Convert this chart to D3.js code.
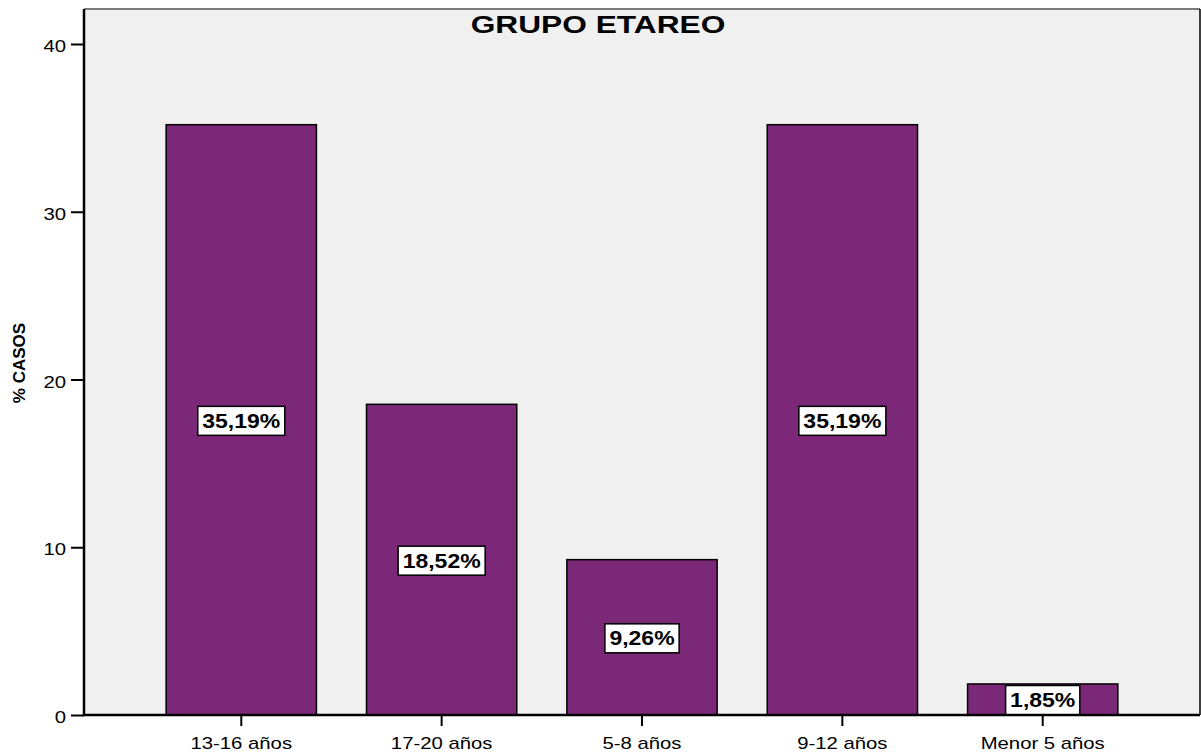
<!DOCTYPE html>
<html>
<head>
<meta charset="utf-8">
<script src="https://cdn.jsdelivr.net/npm/d3@7"></script>
<style>
  html, body { margin: 0; padding: 0; background: #ffffff; }
  svg { display: block; font-family: Arial, "Liberation Sans", sans-serif; }
</style>
</head>
<body>
<svg id="chart" width="1201" height="755"></svg>
<script>
// Age-group distribution (% of cases)
const categories = ["13-16 años", "17-20 años", "5-8 años", "9-12 años", "Menor 5 años"];
const values = [35.19, 18.52, 9.26, 35.19, 1.85];
const valueLabels = ["35,19%", "18,52%", "9,26%", "35,19%", "1,85%"];
const yTicks = [0, 10, 20, 30, 40];
const title = "GRUPO ETAREO";
const yTitle = "% CASOS";

const svg = d3.select("#chart");
const plot = { left: 84, right: 1200, top: 9, bottom: 715 };

const x = d3.scaleBand()
  .domain(categories)
  .range([plot.left, plot.right])
  .paddingInner(0.25)
  .paddingOuter(0.41);

const y = d3.scaleLinear()
  .domain([0, 40])
  .range([plot.bottom, 44]);

// plot background
svg.append("rect")
  .attr("x", plot.left).attr("y", plot.top)
  .attr("width", plot.right - plot.left).attr("height", plot.bottom - plot.top)
  .attr("fill", "#f0f0f0");

// frame: grey top, black right
svg.append("line")
  .attr("x1", plot.left).attr("x2", plot.right)
  .attr("y1", plot.top).attr("y2", plot.top)
  .attr("stroke", "#7a7a7a").attr("stroke-width", 2);
svg.append("line")
  .attr("x1", plot.right).attr("x2", plot.right)
  .attr("y1", plot.top).attr("y2", plot.bottom)
  .attr("stroke", "#000").attr("stroke-width", 1.5);

// bars
svg.append("g").selectAll("rect")
  .data(values)
  .join("rect")
  .attr("x", (d, i) => x(categories[i]))
  .attr("y", d => y(d))
  .attr("width", x.bandwidth())
  .attr("height", d => y(0) - y(d))
  .attr("fill", "#7b2878")
  .attr("stroke", "#000")
  .attr("stroke-width", 1.5);

// y axis
const yAxis = svg.append("g")
  .attr("transform", `translate(${plot.left},0)`)
  .call(d3.axisLeft(y).tickValues(yTicks).tickSize(13).tickFormat(d3.format("d")));
yAxis.select(".domain").remove();
yAxis.selectAll(".tick line").attr("stroke", "#000").attr("stroke-width", 2);
yAxis.selectAll(".tick text")
  .attr("x", null).attr("dy", null)
  .attr("dominant-baseline", "central")
  .attr("text-anchor", "end")
  .attr("transform", "translate(-18,2) scale(1.27,1)")
  .attr("font-size", 16)
  .attr("fill", "#000");

// x axis
const xAxis = svg.append("g")
  .attr("transform", `translate(0,${plot.bottom})`)
  .call(d3.axisBottom(x).tickSize(11).tickPadding(0));
xAxis.select(".domain").remove();
xAxis.selectAll(".tick line").attr("stroke", "#000").attr("stroke-width", 2);
xAxis.selectAll(".tick text")
  .attr("y", null).attr("dy", null)
  .attr("transform", "translate(0,34) scale(1.27,1)")
  .attr("text-anchor", "middle")
  .attr("font-size", 16)
  .attr("fill", "#000");

// axis lines
svg.append("line")
  .attr("x1", plot.left).attr("x2", plot.left)
  .attr("y1", plot.top).attr("y2", plot.bottom + 1)
  .attr("stroke", "#000").attr("stroke-width", 2.5);
svg.append("line")
  .attr("x1", plot.left - 1).attr("x2", plot.right)
  .attr("y1", plot.bottom).attr("y2", plot.bottom)
  .attr("stroke", "#000").attr("stroke-width", 2.5);

// value labels in boxes at mid-height of each bar
const labelStretch = 1.15;
const labels = svg.append("g").selectAll("g")
  .data(values)
  .join("g")
  .attr("transform", (d, i) => {
    const cx = x(categories[i]) + x.bandwidth() / 2;
    const cy = Math.min(y(d / 2) + 1, plot.bottom - 15);
    return `translate(${cx},${cy})`;
  });
labels.append("text")
  .attr("text-anchor", "middle")
  .attr("dominant-baseline", "central")
  .attr("transform", `scale(${labelStretch},1)`)
  .attr("font-size", 20)
  .attr("font-weight", "bold")
  .attr("fill", "#000")
  .text((d, i) => valueLabels[i]);
labels.each(function () {
  const g = d3.select(this);
  const w = g.select("text").node().getBBox().width * labelStretch;
  g.insert("rect", "text")
    .attr("x", -w / 2 - 4.5)
    .attr("y", -14.5)
    .attr("width", w + 9)
    .attr("height", 29)
    .attr("fill", "#fff")
    .attr("stroke", "#000")
    .attr("stroke-width", 1.5);
});

// title
svg.append("text")
  .attr("transform", "translate(598,33) scale(1.32,1)")
  .attr("text-anchor", "middle")
  .attr("font-size", 24)
  .attr("font-weight", "bold")
  .attr("fill", "#000")
  .text(title);

// y axis title
svg.append("text")
  .attr("transform", "translate(25,363) rotate(-90)")
  .attr("text-anchor", "middle")
  .attr("font-size", 17)
  .attr("font-weight", "bold")
  .attr("fill", "#000")
  .text(yTitle);
</script>
</body>
</html>
